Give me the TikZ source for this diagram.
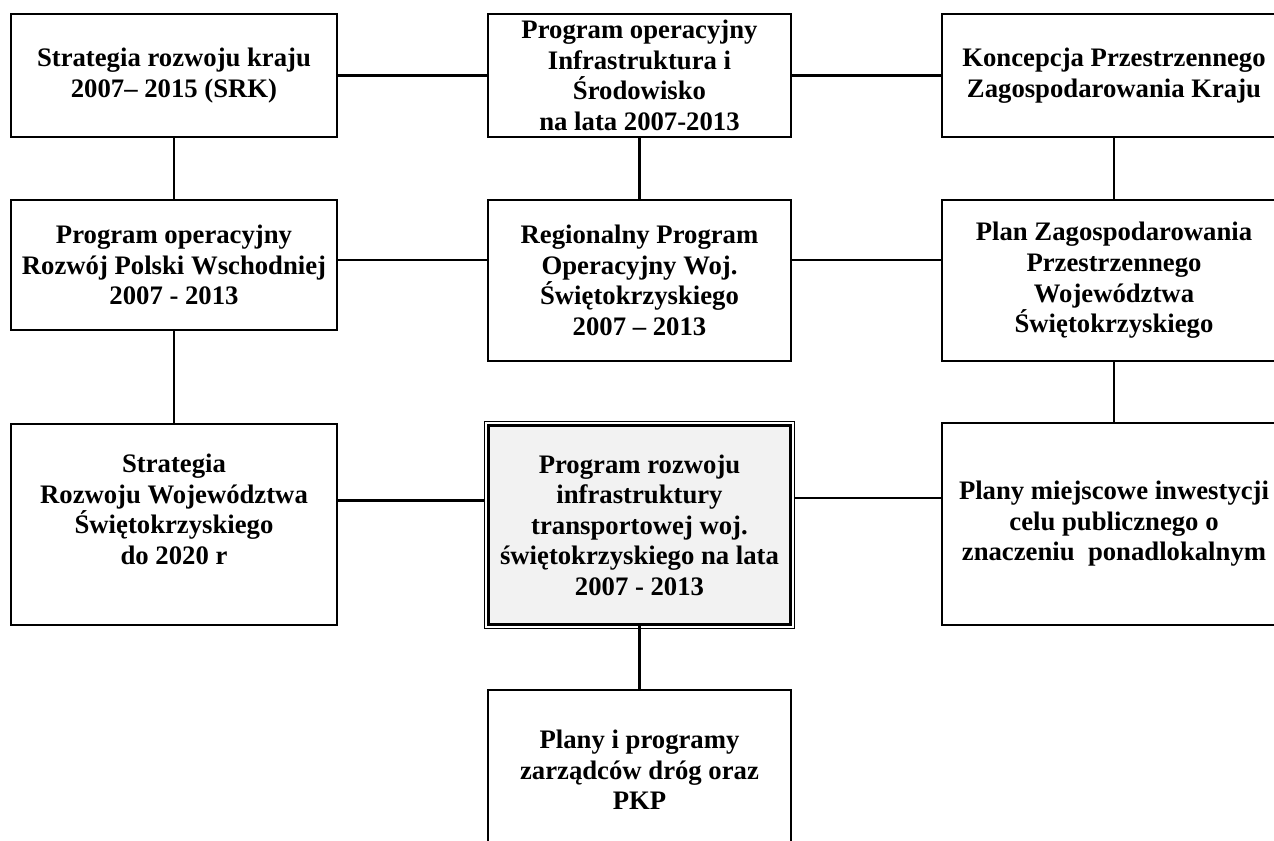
\documentclass[tikz,border=0pt]{standalone}
\usepackage{fontspec}
\setmainfont{Liberation Serif}
\usepackage{tikz}
\usetikzlibrary{
    positioning,
    calc
}
\definecolor{Cline}{RGB}{0, 0, 0}
\definecolor{Cfill}{RGB}{242, 242, 242}
\tikzset{
    pbox/.style={
        rectangle, draw=Cline, line width=1.5pt,
        fill=white, text=black, inner sep=3pt,
        align=center, font=\bfseries\fontsize{15.2}{17.4}\selectfont
    },
    pmain/.style={
        pbox, fill=Cfill, line width=2.1pt
    },
    plink/.style={line width=1.2pt, Cline},
}

\begin{document}
\begin{tikzpicture}[x=0.02cm, y=-0.02cm]

    \clip (0,0) rectangle (1274,840);
    \fill [white] (0,0) rectangle (1274,840);

    % top row
    \node [pbox, minimum width=6.52cm, minimum height=2.46cm] at (174,75.5)
        (srk) {Strategia rozwoju kraju \\ 2007-- 2015 (SRK)};
    \node [pbox, minimum width=6.06cm, minimum height=2.46cm] at (639.5,75.5)
        (pois) {Program operacyjny \\ Infrastruktura i \\ Środowisko \\ na lata 2007-2013};
    \node [pbox, minimum width=6.88cm, minimum height=2.46cm] at (1114,75.5)
        (kpzk) {Koncepcja Przestrzennego \\ Zagospodarowania Kraju};

    % middle row
    \node [pbox, minimum width=6.52cm, minimum height=2.6cm] at (174,265)
        (ppw) {Program operacyjny \\ Rozwój Polski Wschodniej \\ 2007 - 2013};
    \node [pbox, minimum width=6.06cm, minimum height=3.22cm] at (639.5,280.5)
        (rpo) {Regionalny Program \\ Operacyjny Woj. \\ Świętokrzyskiego \\ 2007 -- 2013};
    \node [pbox, minimum width=6.88cm, minimum height=3.22cm] at (1114,280.5)
        (pzpw) {Plan Zagospodarowania \\ Przestrzennego \\ Województwa \\ Świętokrzyskiego};

    % bottom row
    \node [pbox, minimum width=6.52cm, minimum height=4.02cm] at (174,524.5)
        (srw) {Strategia \\ Rozwoju Województwa \\ Świętokrzyskiego \\ do 2020 r \\ \mbox{}};
    \node [pmain, minimum width=6.04cm, minimum height=3.98cm] at (639.5,525)
        (prit) {Program rozwoju \\ infrastruktury \\ transportowej woj. \\ świętokrzyskiego na lata \\ 2007 - 2013};
    \draw [line width=0.7pt] ($(prit.north west)+(-2.5,-2.5)$) rectangle ($(prit.south east)+(2.5,2.5)$);
    \node [pbox, minimum width=6.88cm, minimum height=4.04cm] at (1114,524)
        (pmi) {Plany miejscowe inwestycji \\ celu publicznego o \\ znaczeniu\ \ ponadlokalnym};

    \node [pbox, minimum width=6.06cm, minimum height=3.2cm] at (639.5,770)
        (pkp) {Plany i programy \\ zarządców dróg oraz \\ PKP};

    % connectors
    \draw [plink] (srk) -- (pois);
    \draw [plink] (pois) -- (kpzk);
    \draw [plink] (srk) -- (ppw);
    \draw [plink] (pois) -- (rpo);
    \draw [plink] (kpzk) -- (pzpw);
    \draw [plink] ([yshift=0.1cm]ppw.east) -- ([yshift=0.1cm]ppw.east -| rpo.west);
    \draw [plink] ([yshift=0.1cm]rpo.east |- ppw.east) -- ([yshift=0.1cm]pzpw.west |- ppw.east);
    \draw [plink] (ppw) -- (srw);
    \draw [plink] (pzpw) -- (pmi);
    \draw [plink] ([yshift=0.48cm]srw.east) -- ([yshift=0.48cm,xshift=-0.05cm]srw.east -| prit.west);
    \draw [plink] ([yshift=0.52cm,xshift=0.05cm]pmi.west -| prit.east) -- ([yshift=0.52cm]pmi.west);
    \draw [plink] (prit) -- (pkp);

\end{tikzpicture}
\end{document}
